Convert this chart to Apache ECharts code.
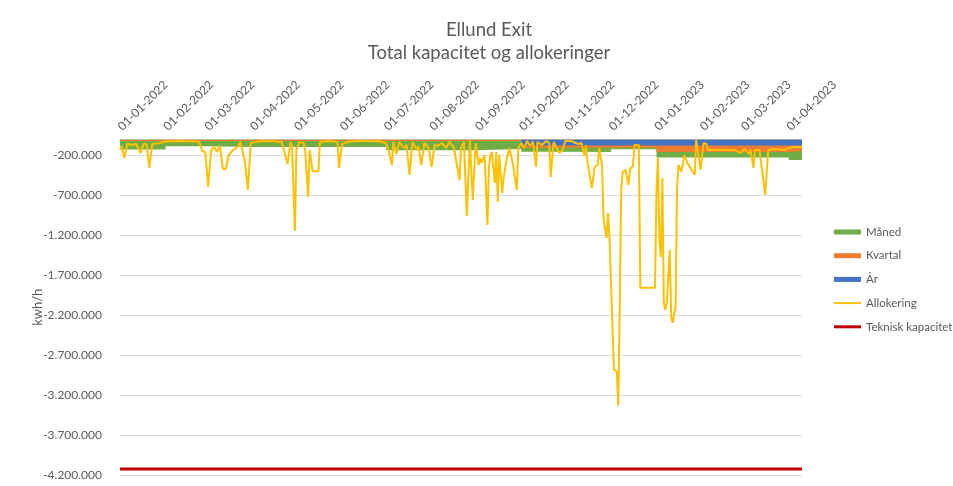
<!DOCTYPE html>
<html>
<head>
<meta charset="utf-8">
<script src="https://cdn.jsdelivr.net/npm/echarts@6/dist/echarts.min.js"></script>
<style>
html,body{margin:0;padding:0;background:#fff;}
#chart{width:953px;height:486px;}
</style>
</head>
<body>
<div id="chart"></div>
<script>
// ---- data ----
const startDate = '2022-01-01';
const endDate = '2023-04-10';
const monthStarts = ['2022-01-01','2022-02-01','2022-03-01','2022-04-01','2022-05-01','2022-06-01','2022-07-01','2022-08-01','2022-09-01','2022-10-01','2022-11-01','2022-12-01','2023-01-01','2023-02-01','2023-03-01','2023-04-01'];
const tickLabels = ['01-01-2022','01-02-2022','01-03-2022','01-04-2022','01-05-2022','01-06-2022','01-07-2022','01-08-2022','01-09-2022','01-10-2022','01-11-2022','01-12-2022','01-01-2023','01-02-2023','01-03-2023','01-04-2023'];

// monthly capacity bookings (kWh/h), one value per month start
const maaned  = [-105000,-65000,-75000,-75000,-75000,-75000,-115000,-115000,-100000,-50000,-55000,-20000,-70000,-70000,-70000,-112000];
const kvartal = [-20000,-20000,-20000,-20000,-20000,-20000,-20000,-20000,-20000,-28000,-28000,-28000,-80000,-80000,-80000,-70000];
const aar     = [0,0,0,0,0,0,0,0,0,-75000,-75000,-75000,-75000,-75000,-75000,-75000];

// allocation: day offset from 2022-01-01 and value (kWh/h)
const allocDay = [0,1,3,5,8,11,14,16,18,20,22,27,31,41,51,54,56,58,60,62,64,66,68,70,72,74,77,80,82,85,87,89,94,102,110,114,116,117,119,120,122,125,126,128,129,131,135,136,143,148,149,151,156,163,170,177,181,183,185,186,188,190,193,195,197,199,202,203,205,207,210,212,214,216,219,222,224,227,228,231,232,234,236,238,239,240,242,244,245,246,248,250,251,252,253,255,256,257,258,260,261,263,265,267,270,271,273,275,277,279,281,283,284,287,290,292,293,295,297,299,301,303,307,310,312,314,316,317,318,321,323,325,326,328,329,331,332,333,334,336,338,339,340,341,342,344,346,347,349,350,353,354,364,365,366,367,368,369,370,371,372,374,375,376,378,379,380,382,384,386,389,391,392,395,397,399,400,408,418,422,425,428,429,431,432,435,439,441,446,452,455,456,459,464];
const allocValue = [-131000,-81000,-231000,-50000,-69000,-56000,-169000,-56000,-56000,-356000,-56000,-44000,-25000,-19000,-25000,-31000,-144000,-156000,-594000,-131000,-94000,-156000,-81000,-369000,-369000,-194000,-131000,-94000,-31000,-281000,-631000,-44000,-25000,-19000,-31000,-306000,-31000,-81000,-1144000,-131000,-31000,-44000,-144000,-719000,-131000,-394000,-400000,-31000,-19000,-31000,-356000,-56000,-25000,-19000,-19000,-25000,-44000,-156000,-319000,-31000,-181000,-31000,-106000,-69000,-444000,-31000,-131000,-81000,-319000,-44000,-106000,-344000,-69000,-81000,-44000,-106000,-31000,-94000,-194000,-506000,-106000,-31000,-956000,-6000,-31000,-756000,-44000,-319000,-231000,-294000,-194000,-1069000,-356000,-206000,-156000,-544000,-156000,-781000,-194000,-669000,-481000,-256000,-106000,-281000,-631000,-106000,-44000,-106000,-19000,-81000,-25000,-344000,-31000,-69000,-19000,-44000,-469000,-31000,-106000,-169000,-131000,-19000,-19000,-44000,-56000,-44000,-206000,-69000,-281000,-606000,-344000,-319000,-106000,-331000,-1006000,-1231000,-919000,-1219000,-1756000,-2881000,-2906000,-3331000,-2094000,-631000,-406000,-381000,-569000,-369000,-331000,-69000,-69000,-1856000,-1856000,-631000,-231000,-1256000,-1469000,-481000,-2044000,-2131000,-2044000,-1381000,-2219000,-2294000,-2094000,-594000,-319000,-406000,-194000,-294000,-381000,-444000,-6000,-381000,-44000,-56000,-131000,-131000,-131000,-169000,-119000,-181000,-131000,-356000,-131000,-131000,-694000,-131000,-119000,-131000,-106000,-131000,-94000,-94000];

const tekniskKapacitet = -4125000;

// ---- helpers ----
function dayOf(s){ return Math.round((Date.parse(s) - Date.parse(startDate)) / 864e5); }
const monthDays = monthStarts.map(dayOf);
const lastDay = dayOf(endDate);
const bandDays = monthDays.concat([lastDay]);
// stacked step bands (År nearest zero, then Kvartal, then Måned)
function cum(parts){ return parts[0].map((_, i) => parts.reduce((s, p) => s + p[i], 0)); }
function bandData(arr){ const a = arr.concat([arr[arr.length-1]]); return bandDays.map((d,i)=>[d, a[i]]); }
function fmt(v){
  const s = Math.abs(Math.round(v)).toString().replace(/\B(?=(\d{3})+(?!\d))/g,'.');
  return (v < 0 ? '-' : '') + s;
}

const FONT = 'Lato, "Open Sans", sans-serif';
const TXT = '#595959';

function band(name, color, values){
  return {name, type:'line', step:'end', symbol:'none', silent:true,
    lineStyle:{width:0}, itemStyle:{color}, areaStyle:{color, opacity:1, origin:'end'},
    data: bandData(values)};
}

const chart = echarts.init(document.getElementById('chart'), null, {renderer:'canvas'});
chart.setOption({
  animation: false,
  backgroundColor: '#ffffff',
  textStyle: {fontFamily: FONT},
  title: {
    text: 'Ellund Exit\nTotal kapacitet og allokeringer',
    left: 484, top: 14, textAlign: 'center',
    textStyle: {fontFamily: FONT, fontSize: 18.5, fontWeight: 'normal', color: TXT, lineHeight: 23}
  },
  legend: {
    orient: 'vertical', left: 829, top: 220,
    itemWidth: 27, itemHeight: 5, itemGap: 9.7, symbolKeepAspect: true,
    textStyle: {fontFamily: FONT, fontSize: 11.5, color: TXT, lineHeight: 14},
    data: [
      {name:'Måned', icon:'rect'},
      {name:'Kvartal', icon:'rect'},
      {name:'År', icon:'rect'},
      {name:'Allokering', icon:'path://M0,0h27v2h-27z'},
      {name:'Teknisk kapacitet', icon:'path://M0,0h27v3h-27z'}
    ]
  },
  grid: {left: 120, right: 151, top: 139.5, bottom: 11},
  xAxis: {
    type: 'value', position: 'top', min: 0, max: lastDay,
    axisLine: {show: true, onZero: false, lineStyle: {color: '#d9d9d9'}},
    axisTick: {show: false},
    splitLine: {show: false},
    axisLabel: {
      customValues: monthDays,
      rotate: -45, margin: 11,
      fontFamily: FONT, fontSize: 12, color: TXT,
      formatter: function(v){ const i = monthDays.indexOf(Math.round(v)); return i >= 0 ? tickLabels[i] : ''; }
    }
  },
  yAxis: {
    type: 'value', min: -4200000, max: 0, interval: 500000,
    name: 'kwh/h', nameLocation: 'middle', nameGap: 76, nameRotate: 90, nameMoveOverlap: false,
    nameTextStyle: {fontFamily: FONT, fontSize: 13, color: TXT},
    axisLine: {show: false}, axisTick: {show: false},
    splitLine: {lineStyle: {color: '#d9d9d9', width: 1}},
    axisLabel: {showMaxLabel: false, margin: 18, fontFamily: FONT, fontSize: 12, color: TXT, formatter: fmt}
  },
  series: [
    band('Måned', '#70ad47', cum([aar, kvartal, maaned])),
    band('Kvartal', '#ed7d31', cum([aar, kvartal])),
    band('År', '#4472c4', aar),
    {name:'Allokering', type:'line', symbol:'none', silent:true,
     itemStyle:{color:'#ffc000'}, lineStyle:{color:'#ffc000', width:2},
     data: allocDay.map((d,i)=>[d, allocValue[i]])},
    {name:'Teknisk kapacitet', type:'line', symbol:'none', silent:true,
     itemStyle:{color:'#c00000'}, lineStyle:{color:'#c00000', width:3},
     data: [[0, tekniskKapacitet],[lastDay, tekniskKapacitet]]}
  ]
});
</script>
</body>
</html>
